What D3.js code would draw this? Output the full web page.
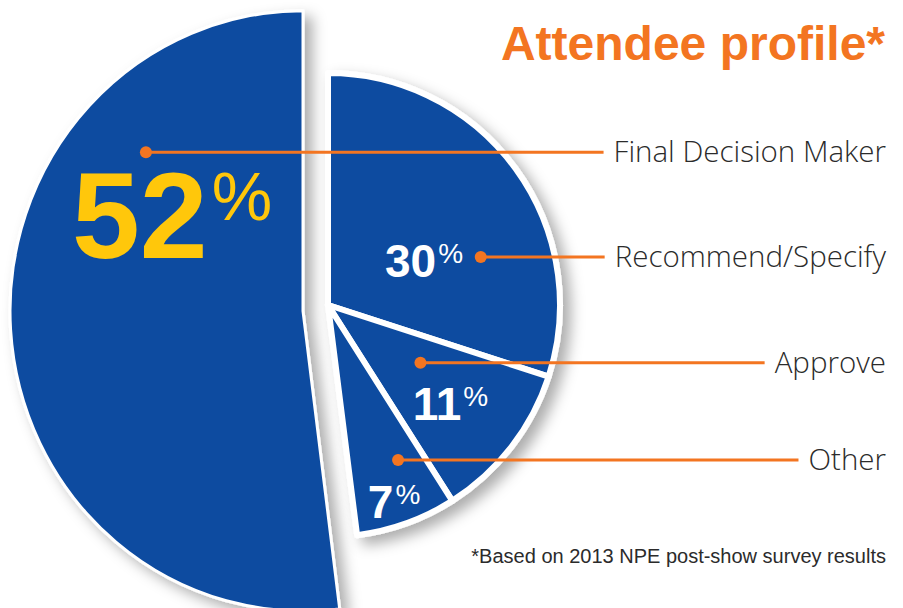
<!DOCTYPE html>
<html>
<head>
<meta charset="utf-8">
<script src="https://cdn.jsdelivr.net/npm/d3@7"></script>
<style>
  body { margin: 0; background: #fff; }
  svg { display: block; }
</style>
</head>
<body>
<svg id="chart"></svg>
<script>

// data
const categories = ["Final Decision Maker", "Recommend/Specify", "Approve", "Other"];
const shares = [52, 30, 11, 7];
const percentSign = "%";
const title = "Attendee profile*";
const footnote = "*Based on 2013 NPE post-show survey results";

const width = 903, height = 608;
const blue = "#0e4ca0", orange = "#f37521", yellow = "#ffc70b", ink = "#2b2b2b";

// big slice sits a bit left of the others (exploded), slightly taller than wide
const bigCenter = [303, 311], bigR = 293, bigStretch = 1.025;
const smallCenter = [328, 305], smallR = 232;

// where the number and the dot sit inside each slice: t = share of the slice's angle, r = share of its radius
const numberPlace = [{t: .5865, r: .808}, {t: .59, r: .274}, {t: .9, r: .616}, {t: .865, r: .934}];
const dotPlace = [{t: .7575, r: .753}, {t: .672, r: .69}, {t: .354, r: .47}, {t: .32, r: .733}];
const numberSize = [122, 46, 46, 46], signSize = [68, 28, 28, 28], signRise = [-38, -14, -14, -14];

const data = categories.map((c, i) => ({name: c, value: shares[i], i: i}));

const start = -2 * Math.PI * shares[0] / d3.sum(shares);
const pie = d3.pie().sort(null).value(d => d.value)
	.startAngle(start)
	.endAngle(start + 2 * Math.PI);
const slices = pie(data);

const svg = d3.select("#chart")
	.attr("width", width)
	.attr("height", height);

const defs = svg.append("defs");
const shadow = defs.append("filter")
	.attr("id", "shadow")
	.attr("x", "-20%").attr("y", "-20%")
	.attr("width", "150%").attr("height", "150%");
shadow.append("feDropShadow")
	.attr("dx", 8).attr("dy", 7)
	.attr("stdDeviation", 7)
	.attr("flood-color", "#000")
	.attr("flood-opacity", 0.32);

const centerOf = d => d.index === 0 ? bigCenter : smallCenter;
const radiusOf = d => d.index === 0 ? bigR : smallR;

function polar(d, place) {
	const c = centerOf(d), r = radiusOf(d) * place.r;
	const a = d.startAngle + (d.endAngle - d.startAngle) * place.t;
	const sy = d.index === 0 ? bigStretch : 1;
	return [c[0] + r * Math.sin(a), c[1] - r * Math.cos(a) * sy];
}

const bigArc = d3.arc().innerRadius(0).outerRadius(bigR);
const smallArc = d3.arc().innerRadius(0).outerRadius(smallR);

// big slice first, its shadow falls under the small ones
svg.append("g")
	.attr("filter", "url(#shadow)")
	.append("g")
	.attr("transform", "translate(" + bigCenter + ") scale(1," + bigStretch + ")")
	.selectAll("path")
	.data(slices.filter(d => d.index === 0))
	.enter().append("path")
	.attr("d", bigArc)
	.attr("fill", blue)
	.attr("stroke", "#fff")
	.attr("stroke-width", 3)
	.attr("stroke-linejoin", "round");

svg.append("g")
	.attr("transform", "translate(" + smallCenter + ")")
	.attr("filter", "url(#shadow)")
	.selectAll("path")
	.data(slices.filter(d => d.index > 0))
	.enter().append("path")
	.attr("d", smallArc)
	.attr("fill", blue)
	.attr("stroke", "#fff")
	.attr("stroke-width", 6)
	.attr("stroke-linejoin", "round");

// percent numbers
const nums = svg.append("g").selectAll("text")
	.data(slices)
	.enter().append("text")
	.attr("x", d => polar(d, numberPlace[d.index])[0])
	.attr("y", d => polar(d, numberPlace[d.index])[1])
	.attr("font-family", "'Liberation Sans', Arial, sans-serif")
	.attr("font-weight", "bold")
	.attr("fill", d => d.index === 0 ? yellow : "#fff");

nums.append("tspan")
	.attr("font-size", d => numberSize[d.index] + "px")
	.text(d => d.data.value);
nums.append("tspan")
	.attr("font-size", d => signSize[d.index] + "px")
	.attr("font-weight", "normal")
	.attr("dx", d => d.index === 0 ? 4 : 2)
	.attr("dy", d => signRise[d.index])
	.text(percentSign);

// category labels, right aligned
const labelRight = 886;
const labels = svg.append("g").selectAll("text")
	.data(slices)
	.enter().append("text")
	.attr("x", labelRight)
	.attr("y", d => polar(d, dotPlace[d.index])[1] + 10)
	.attr("text-anchor", "end")
	.attr("font-family", "'Open Sans', sans-serif")
	.attr("font-weight", 300)
	.attr("font-size", "29.5px")
	.attr("fill", ink)
	.text(d => d.data.name);

// leader lines and dots
const leaders = svg.append("g");
labels.each(function(d) {
	const p = polar(d, dotPlace[d.index]);
	const textStart = labelRight - this.getComputedTextLength();
	leaders.append("line")
		.attr("x1", p[0]).attr("y1", p[1])
		.attr("x2", textStart - 10).attr("y2", p[1])
		.attr("stroke", orange)
		.attr("stroke-width", 3);
	leaders.append("circle")
		.attr("cx", p[0]).attr("cy", p[1])
		.attr("r", 6)
		.attr("fill", orange);
});

svg.append("text")
	.attr("x", 885)
	.attr("y", 60)
	.attr("text-anchor", "end")
	.attr("font-family", "'Liberation Sans', Arial, sans-serif")
	.attr("font-weight", "bold")
	.attr("font-size", "48px")
	.attr("fill", orange)
	.text(title);

svg.append("text")
	.attr("x", 886)
	.attr("y", 563)
	.attr("text-anchor", "end")
	.attr("font-family", "'Liberation Sans', Arial, sans-serif")
	.attr("font-size", "20px")
	.attr("fill", ink)
	.text(footnote);

</script>
</body>
</html>
